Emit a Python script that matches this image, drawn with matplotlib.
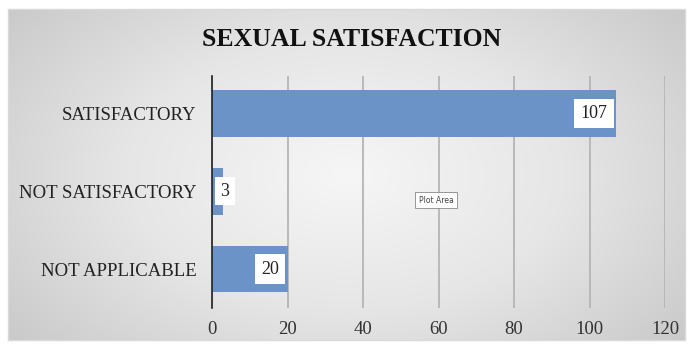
import numpy as np
import matplotlib.pyplot as plt
from matplotlib.colors import LinearSegmentedColormap

categories = ['NOT APPLICABLE', 'NOT SATISFACTORY', 'SATISFACTORY']
counts = [20, 3, 107]
x_ticks = [0, 20, 40, 60, 80, 100, 120]

plt.rcParams['font.family'] = ['Liberation Serif', 'DejaVu Serif']

fig = plt.figure(figsize=(6.91, 3.47), dpi=100)
fig.patch.set_facecolor('white')

# grey radial gradient behind the chart
bg = fig.add_axes([8 / 691, 7 / 347, 677 / 691, 331 / 347])
yy, xx = np.mgrid[-1:1:200j, -1:1:400j]
r = np.sqrt(xx ** 2 + (yy * 0.8) ** 2)
cmap = LinearSegmentedColormap.from_list('bg', ['#f6f6f6', '#e6e6e6', '#c9c9c9'])
bg.imshow(r, cmap=cmap, aspect='auto', extent=[0, 1, 0, 1], vmin=0, vmax=1.3)
bg.set_xlim(0, 1)
bg.set_ylim(0, 1)
bg.axis('off')
bg.plot([0, 1, 1, 0, 0], [0, 0, 1, 1, 0], color='#d9d9d9', lw=1, clip_on=False)

ax = fig.add_axes([212 / 691, 1 - 308 / 347, 453 / 691, 232 / 347])
ax.patch.set_alpha(0)

ypos = np.arange(len(categories))
ax.barh(ypos, counts, height=0.6, color='#6b93c8', zorder=3)

ax.set_xlim(0, 120)
ax.set_ylim(-0.5, 2.48)
ax.set_xticks(x_ticks)
ax.set_yticks(ypos)
ax.set_yticklabels(categories)
ax.tick_params(axis='y', length=0, pad=11, labelsize=13.5, labelcolor='#222222')
ax.tick_params(axis='x', length=0, pad=9, labelsize=13.5, labelcolor='#333333')
ax.grid(axis='x', color='#b5b5b5', lw=1.3, zorder=1)
for s in ['top', 'right', 'bottom']:
    ax.spines[s].set_visible(False)
ax.spines['left'].set_color('#222222')
ax.spines['left'].set_linewidth(1.2)
ax.spines['left'].set_zorder(4)

for y, v in zip(ypos, counts):
    if v < 10:
        ax.annotate(str(v), (0, y), xytext=(6, 0), textcoords='offset points',
                    ha='left', va='center', fontsize=13, color='#222222', zorder=5,
                    bbox=dict(boxstyle='square,pad=0.3', fc='white', ec='none'))
    else:
        ax.annotate(str(v), (v, y), xytext=(-6, 0), textcoords='offset points',
                    ha='right', va='center', fontsize=13, color='#222222', zorder=5,
                    bbox=dict(boxstyle='square,pad=0.35', fc='white', ec='none'))

# editor tooltip left on the plot area
ax.annotate('Plot Area', (0.4945, 0.465), xycoords='axes fraction', ha='center', va='center',
            fontsize=5.5, family='DejaVu Sans', color='#444444',
            bbox=dict(boxstyle='square,pad=0.45', fc='white', ec='#888888', lw=0.6))

fig.text(352 / 691, 1 - 39 / 347, 'SEXUAL SATISFACTION', ha='center', va='center',
         fontsize=18.5, fontweight='bold', color='#111111')

fig.savefig('out.png', dpi=100)
